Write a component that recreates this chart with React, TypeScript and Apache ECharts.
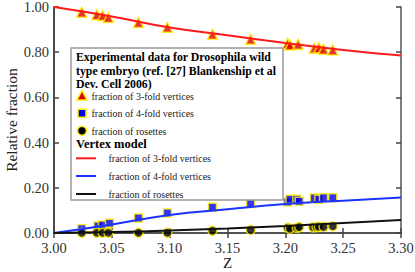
import React, { useEffect, useRef } from "react";
import * as echarts from "echarts";

// Experimental data
const z3 = [3.024, 3.037, 3.042, 3.047, 3.073, 3.098, 3.137, 3.170, 3.202, 3.204, 3.211, 3.225, 3.229, 3.233, 3.241];
const f3 = [0.977, 0.966, 0.962, 0.954, 0.931, 0.910, 0.879, 0.857, 0.839, 0.832, 0.835, 0.817, 0.820, 0.813, 0.810];

const z4 = [3.024, 3.038, 3.042, 3.048, 3.073, 3.098, 3.137, 3.170, 3.202, 3.204, 3.210, 3.212, 3.225, 3.229, 3.233, 3.241];
const f4 = [0.019, 0.031, 0.035, 0.043, 0.066, 0.089, 0.114, 0.131, 0.137, 0.149, 0.149, 0.140, 0.155, 0.149, 0.156, 0.156];

const zR = [3.024, 3.037, 3.042, 3.047, 3.073, 3.098, 3.137, 3.170, 3.202, 3.204, 3.210, 3.212, 3.224, 3.227, 3.229, 3.233, 3.241];
const fR = [0.001, 0.001, 0.001, 0.001, 0.001, 0.001, 0.010, 0.013, 0.023, 0.019, 0.022, 0.026, 0.025, 0.026, 0.028, 0.027, 0.030];

// Vertex model curves
const zModel = [3.0, 3.05, 3.1, 3.15, 3.2, 3.25, 3.3];
const m3 = [1.0, 0.958, 0.909, 0.875, 0.841, 0.810, 0.785];
const m4 = [0.0, 0.038, 0.080, 0.105, 0.128, 0.143, 0.157];
const mR = [0.0, 0.004, 0.011, 0.020, 0.031, 0.044, 0.058];

const pairs = (xs: number[], ys: number[]) => xs.map((x, i) => [x, ys[i]]);

const SERIF = "Liberation Serif";

export default function App() {
  const ref = useRef<HTMLDivElement>(null);
  useEffect(() => {
    const chart = echarts.init(ref.current!, null, { renderer: "svg" });
    const frame = { show: true, lineStyle: { color: "#555", width: 1.5 } };
    const tick = { show: true, inside: true, length: 5, lineStyle: { color: "#444", width: 1.5 } };
    const lx = 71, ly = 48;
    const txt = (x: number, y: number, text: string, size: number, bold = false) => ({
      type: "text", x, y, z: 101,
      style: { text, fontFamily: SERIF, fontSize: size, fontWeight: bold ? "bold" : "normal",
        fill: bold ? "#000" : "#222", verticalAlign: "middle" },
    });
    chart.setOption({
      animation: false,
      backgroundColor: "#fff",
      grid: { left: 54, top: 7, right: 14, bottom: 39, containLabel: false, outerBoundsMode: "none" },
      xAxis: [
        {
          type: "value", min: 3.0, max: 3.3, interval: 0.05, position: "bottom",
          name: "Z", nameLocation: "middle", nameGap: 22, nameMoveOverlap: false,
          nameTextStyle: { fontFamily: SERIF, fontSize: 15, color: "#222", verticalAlign: "top" },
          axisLine: { show: true, onZero: false, lineStyle: { color: "#111", width: 1.5 } },
          axisTick: tick, splitLine: { show: false },
          axisLabel: { fontFamily: SERIF, fontSize: 14.5, color: "#333", margin: 7,
            formatter: (v: number) => v.toFixed(2) },
        },
        {
          type: "value", min: 3.0, max: 3.3, interval: 0.05, position: "top",
          axisLine: frame, axisTick: tick, axisLabel: { show: false }, splitLine: { show: false },
        },
      ],
      yAxis: [
        {
          type: "value", min: 0, max: 1, interval: 0.2, position: "left",
          name: "Relative fraction", nameLocation: "middle", nameGap: 35, nameMoveOverlap: false,
          nameTextStyle: { fontFamily: SERIF, fontSize: 15.5, color: "#222" },
          axisLine: { show: true, onZero: false, lineStyle: { color: "#111", width: 1.5 } },
          axisTick: tick, splitLine: { show: false },
          axisLabel: { fontFamily: SERIF, fontSize: 14.5, color: "#333", margin: 5,
            formatter: (v: number) => v.toFixed(2) },
        },
        {
          type: "value", min: 0, max: 1, interval: 0.2, position: "right",
          axisLine: frame, axisTick: tick, axisLabel: { show: false }, splitLine: { show: false },
        },
      ],
      series: [
        { type: "line", data: pairs(zModel, m3), smooth: true, symbol: "none", lineStyle: { color: "#ff1a1a", width: 2 } },
        { type: "line", data: pairs(zModel, m4), smooth: true, symbol: "none", lineStyle: { color: "#1a33ff", width: 2 } },
        { type: "line", data: pairs(zModel, mR), smooth: true, symbol: "none", lineStyle: { color: "#111", width: 2 } },
        { type: "scatter", data: pairs(z3, f3), symbol: "triangle", symbolSize: 10,
          itemStyle: { color: "#e00000", borderColor: "#ffee00", borderWidth: 1.5 } },
        { type: "scatter", data: pairs(z4, f4), symbol: "rect", symbolSize: 8,
          itemStyle: { color: "#0000ee", borderColor: "#ffee00", borderWidth: 1.5 } },
        { type: "scatter", data: pairs(zR, fR), symbol: "circle", symbolSize: 9,
          itemStyle: { color: "#000", borderColor: "#ffee00", borderWidth: 1.5 } },
      ],
      graphic: [
        { type: "rect", shape: { x: lx, y: ly, width: 212, height: 152 },
          style: { fill: "#fff", stroke: "#999", lineWidth: 1.5 }, z: 100 },
        txt(76, 57, "Experimental data for Drosophila wild", 11.8, true),
        txt(76, 70.5, "type embryo (ref. [27] Blankenship et al", 11.8, true),
        txt(76, 83.5, "Dev. Cell 2006)", 11.8, true),
        { type: "polygon", z: 101, shape: { points: [[82, 90.5], [87, 100], [77, 100]] },
          style: { fill: "#e00000", stroke: "#ffee00", lineWidth: 1.5 } },
        txt(91.5, 96, "fraction of 3-fold vertices", 10),
        { type: "rect", z: 101, shape: { x: 78, y: 109.3, width: 8, height: 8 },
          style: { fill: "#0000ee", stroke: "#ffee00", lineWidth: 1.5 } },
        txt(91.5, 113.5, "fraction of 4-fold vertices", 10),
        { type: "circle", z: 101, shape: { cx: 82, cy: 130.7, r: 4.5 },
          style: { fill: "#000", stroke: "#ffee00", lineWidth: 1.5 } },
        txt(91.5, 131, "fraction of rosettes", 10),
        txt(76, 143.5, "Vertex model", 12.5, true),
        { type: "line", z: 101, shape: { x1: 76, y1: 158.3, x2: 96, y2: 158.3 }, style: { stroke: "#ff1a1a", lineWidth: 2 } },
        txt(108.5, 158.5, "fraction of 3-fold vertices", 10),
        { type: "line", z: 101, shape: { x1: 76, y1: 176, x2: 96, y2: 176 }, style: { stroke: "#1a33ff", lineWidth: 2 } },
        txt(108.5, 176, "fraction of 4-fold vertices", 10),
        { type: "line", z: 101, shape: { x1: 76, y1: 194, x2: 96, y2: 194 }, style: { stroke: "#111", lineWidth: 2 } },
        txt(108.5, 194, "fraction of rosettes", 10),
      ],
    });
    return () => chart.dispose();
  }, []);
  return <div ref={ref} style={{ width: 415, height: 272, position: "absolute", left: 0, top: 0 }} />;
}
